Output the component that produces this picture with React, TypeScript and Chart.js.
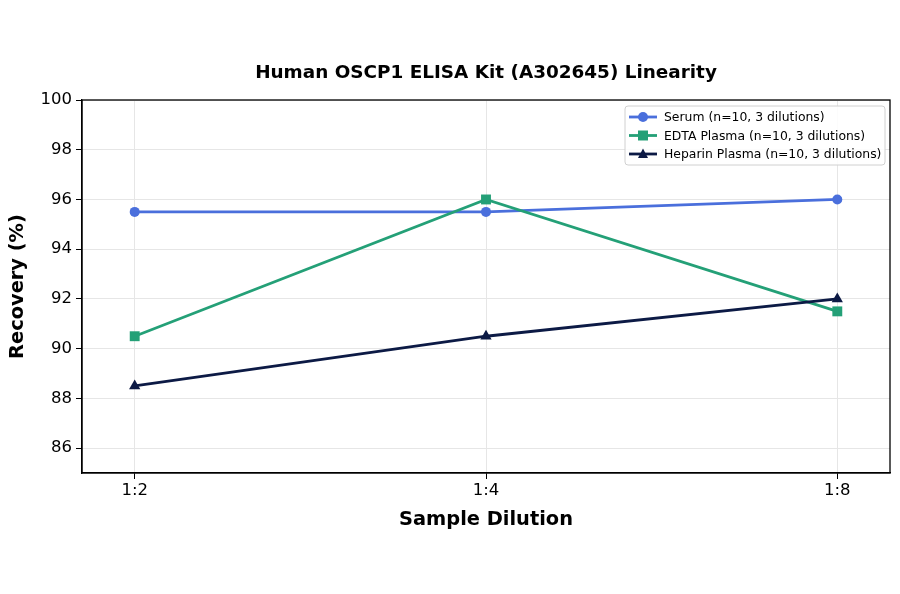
import { useRef, useEffect } from 'react'
import { Chart, registerables } from 'chart.js'

Chart.register(...registerables)

const dilutions = ['1:2', '1:4', '1:8']
const serum = [95.5, 95.5, 96.0]
const edta = [90.5, 96.0, 91.5]
const heparin = [88.5, 90.5, 92.0]
const yTicks = [86, 88, 90, 92, 94, 96, 98, 100]

const FONT = 'DejaVu Sans, sans-serif'

const series = [
  { label: 'Serum (n=10, 3 dilutions)', data: serum, color: '#4a6fdc', style: 'circle' },
  { label: 'EDTA Plasma (n=10, 3 dilutions)', data: edta, color: '#24a077', style: 'rect' },
  { label: 'Heparin Plasma (n=10, 3 dilutions)', data: heparin, color: '#0c1a45', style: 'triangle' },
]

const drawMarker = (ctx: CanvasRenderingContext2D, style: string, x: number, y: number, r: number) => {
  ctx.beginPath()
  if (style === 'circle') ctx.arc(x, y, r, 0, Math.PI * 2)
  else if (style === 'rect') ctx.rect(x - r, y - r, r * 2, r * 2)
  else {
    ctx.moveTo(x, y - r * 1.1)
    ctx.lineTo(x + r, y + r * 0.8)
    ctx.lineTo(x - r, y + r * 0.8)
    ctx.closePath()
  }
  ctx.fill()
}

const decor = {
  id: 'decor',
  afterDraw(chart: Chart) {
    const { ctx, chartArea: a } = chart
    ctx.save()
    // frame
    ctx.strokeStyle = '#000'
    ctx.lineWidth = 1.3
    ctx.strokeRect(a.left, a.top, a.right - a.left, a.bottom - a.top)
    // title
    ctx.fillStyle = '#000'
    ctx.font = `bold 18.4px ${FONT}`
    ctx.textAlign = 'center'
    ctx.textBaseline = 'middle'
    ctx.fillText('Human OSCP1 ELISA Kit (A302645) Linearity', (a.left + a.right) / 2, 73)
    // legend
    const bx = 625, by = 106, bw = 260, bh = 59
    ctx.fillStyle = 'rgba(255,255,255,0.85)'
    ctx.strokeStyle = '#d0d0d0'
    ctx.lineWidth = 1
    ctx.beginPath()
    ctx.roundRect(bx, by, bw, bh, 3)
    ctx.fill()
    ctx.stroke()
    ctx.font = `12.4px ${FONT}`
    ctx.textAlign = 'left'
    series.forEach((s, i) => {
      const y = by + 11 + i * 18.5
      ctx.strokeStyle = s.color
      ctx.fillStyle = s.color
      ctx.lineWidth = 2.8
      ctx.beginPath()
      ctx.moveTo(629, y)
      ctx.lineTo(657, y)
      ctx.stroke()
      drawMarker(ctx, s.style, 643, y, 5)
      ctx.fillStyle = '#000'
      ctx.fillText(s.label, 664, y + 1)
    })
    ctx.restore()
  },
}

export default function App() {
  const canvasRef = useRef<HTMLCanvasElement>(null)
  const chartRef = useRef<Chart | null>(null)

  useEffect(() => {
    if (!canvasRef.current) return
    chartRef.current?.destroy()

    chartRef.current = new Chart(canvasRef.current, {
      type: 'line',
      data: {
        datasets: series.map((s, i) => ({
          label: s.label,
          data: s.data.map((v, j) => ({ x: j, y: v })),
          order: series.length - 1 - i,
          borderColor: s.color,
          backgroundColor: s.color,
          borderWidth: 2.8,
          pointStyle: s.style === 'rect' ? 'rect' : s.style === 'triangle' ? 'triangle' : 'circle',
          pointRadius: s.style === 'rect' ? 7 : s.style === 'triangle' ? 6.5 : 5,
          pointBorderWidth: 0,
          tension: 0,
        })),
      },
      options: {
        animation: false,
        responsive: false,
        layout: { padding: { top: 100, right: 10, left: 0, bottom: 0 } },
        plugins: {
          legend: { display: false },
          tooltip: { enabled: false },
        },
        scales: {
          x: {
            type: 'linear',
            min: -0.15,
            max: 2.15,
            afterBuildTicks: (scale) => {
              scale.ticks = dilutions.map((_, i) => ({ value: i }))
            },
            afterFit: (scale) => {
              scale.height = 121
            },
            ticks: {
              color: '#000',
              font: { family: FONT, size: 16.5 },
              padding: 2,
              callback: (v) => dilutions[Number(v)] ?? '',
            },
            grid: { color: '#e6e6e6', tickColor: '#000', tickLength: 6, lineWidth: 1 },
            border: { color: '#000', width: 1.3 },
            title: {
              display: true,
              text: 'Sample Dilution',
              color: '#000',
              font: { family: FONT, size: 19.4, weight: 'bold' },
              padding: { top: 0, bottom: 62 },
            },
          },
          y: {
            min: 85,
            max: 100,
            afterBuildTicks: (scale) => {
              scale.ticks = yTicks.map((v) => ({ value: v }))
            },
            afterFit: (scale) => {
              scale.width = 82
            },
            ticks: {
              color: '#000',
              font: { family: FONT, size: 16.5 },
              padding: 4,
            },
            grid: { color: '#e6e6e6', tickColor: '#000', tickLength: 6, lineWidth: 1 },
            border: { color: '#000', width: 1.3 },
            title: {
              display: true,
              text: 'Recovery (%)',
              color: '#000',
              font: { family: FONT, size: 19.4, weight: 'bold' },
              padding: { top: 6, bottom: 0 },
            },
          },
        },
      },
      plugins: [decor],
    })

    return () => {
      chartRef.current?.destroy()
      chartRef.current = null
    }
  }, [])

  return (
    <div style={{ position: 'fixed', left: 0, top: 0, width: 900, height: 594, background: '#fff' }}>
      <canvas ref={canvasRef} width={900} height={594} />
    </div>
  )
}
